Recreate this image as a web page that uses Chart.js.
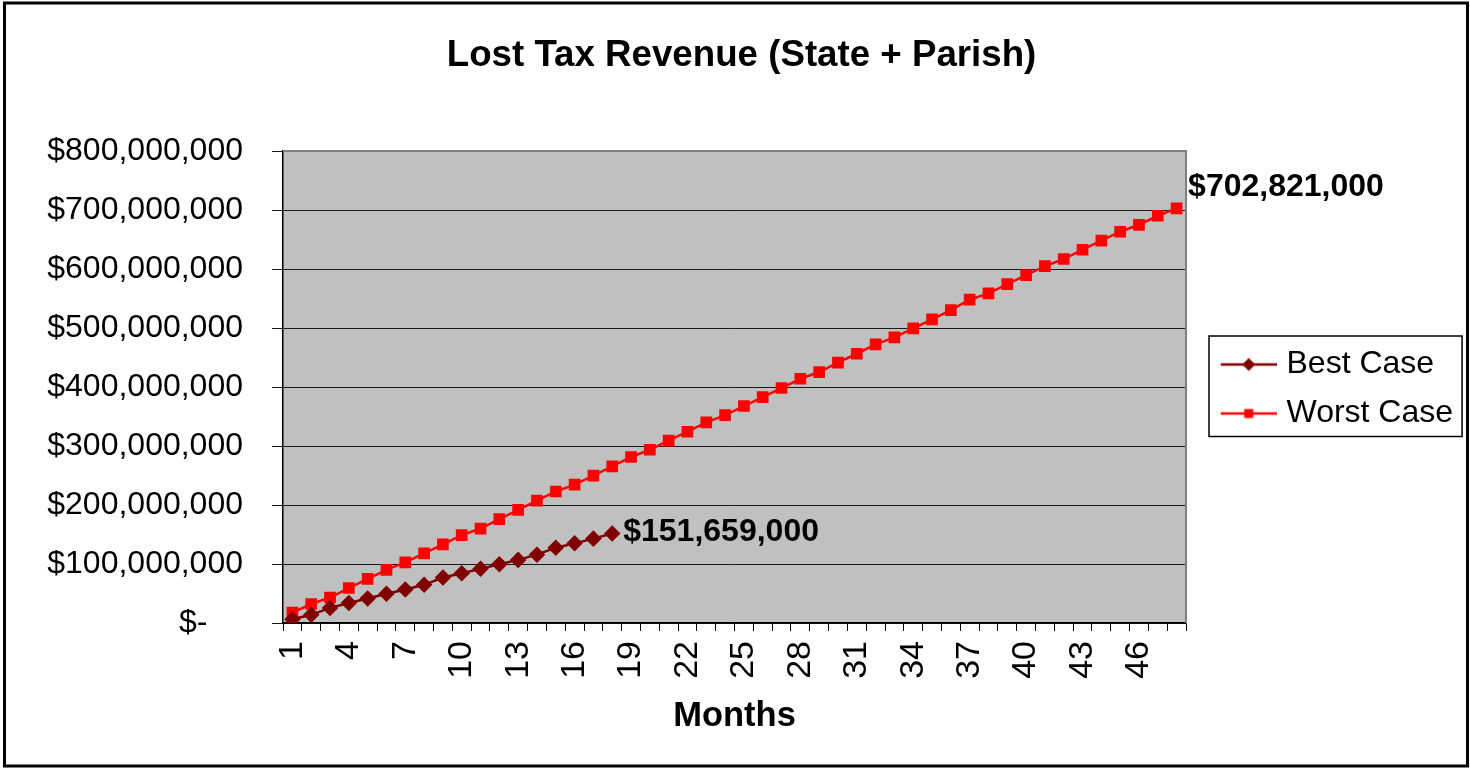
<!DOCTYPE html>
<html>
<head>
<meta charset="utf-8">
<script src="https://cdn.jsdelivr.net/npm/chart.js@4.4.0/dist/chart.umd.min.js"></script>
<style>
html,body{margin:0;padding:0;background:#fff;overflow:hidden}
#wrap{width:1470px;height:769px;position:relative}
</style>
</head>
<body>
<div id="wrap"><canvas id="c" width="1470" height="769"></canvas></div>
<script>
// ---------- data ----------
const chartTitle = 'Lost Tax Revenue (State + Parish)';
const xAxisTitle = 'Months';
const months = [1,2,3,4,5,6,7,8,9,10,11,12,13,14,15,16,17,18,19,20,21,22,23,24,
                25,26,27,28,29,30,31,32,33,34,35,36,37,38,39,40,41,42,43,44,45,46,47,48];
const shownMonths = [1,4,7,10,13,16,19,22,25,28,31,34,37,40,43,46];
const seriesNames = ['Best Case', 'Worst Case'];
const bestCase = [6300000, 13900000, 25600000, 34000000, 41600000, 49500000, 56800000, 64700000,
                  77100000, 84200000, 91800000, 99700000, 107000000, 115800000, 127700000,
                  135000000, 143000000, 151659000];
const worstCase = [17500000, 32200000, 43200000, 59300000, 74800000, 90100000, 102600000, 118000000,
                   133300000, 148900000, 160100000, 176000000, 191800000, 207400000, 222900000,
                   234500000, 249700000, 265600000, 281400000, 293700000, 309000000, 324200000,
                   340200000, 352500000, 367800000, 383000000, 398300000, 414000000, 425400000,
                   441200000, 456400000, 472400000, 484200000, 499500000, 514700000, 530500000,
                   548000000, 558600000, 574500000, 589700000, 604800000, 617000000, 632700000,
                   648000000, 663200000, 675000000, 690300000, 702821000];
const yTickValues = [0, 100000000, 200000000, 300000000, 400000000, 500000000, 600000000, 700000000, 800000000];

// ---------- styling ----------
const FAMILY = "'Liberation Sans', Arial, sans-serif";
const COLORS = ['#800000', '#FF0000'];
const STYLES = ['rectRot', 'rect'];
const LEG_FONT = 32;
const LEG_PAD = 17;
const LEG_BOX = 67.5;
const PLOT_RIGHT = 1186;
const PAD_LEFT = 20;

function fmtMoney(v) {
  if (v === 0) return '$-    ';
  return '$' + Math.round(v).toLocaleString('en-US');
}

function legendMarker(color, style) {
  const c = document.createElement('canvas');
  c.width = 80; c.height = 16;
  const g = c.getContext('2d');
  g.strokeStyle = color; g.lineWidth = 2.5;
  g.beginPath(); g.moveTo(24, 8); g.lineTo(80, 8); g.stroke();
  g.fillStyle = color;
  g.beginPath();
  if (style === 'rectRot') {
    g.moveTo(52, 1.5); g.lineTo(58.5, 8); g.lineTo(52, 14.5); g.lineTo(45.5, 8); g.closePath();
  } else {
    g.rect(47.5, 3.5, 9, 9);
  }
  g.fill();
  return c;
}
const markers = [legendMarker(COLORS[0], STYLES[0]), legendMarker(COLORS[1], STYLES[1])];

// legend width, to place the plot right edge
const mctx = document.createElement('canvas').getContext('2d');
mctx.font = LEG_FONT + 'px ' + FAMILY;
const maxText = Math.max(...seriesNames.map(n => mctx.measureText(n).width));
const legendWidth = LEG_PAD + (LEG_BOX + LEG_FONT / 2 + maxText) + 10;
const padRight = Math.max(0, 1470 - PLOT_RIGHT - legendWidth);

const framePlugin = {
  id: 'frame',
  beforeDraw(chart) {
    const {ctx, chartArea: a} = chart;
    ctx.save();
    ctx.fillStyle = '#fff';
    ctx.fillRect(0, 0, chart.width, chart.height);
    ctx.fillStyle = '#C0C0C0';
    ctx.fillRect(a.left, a.top, a.right - a.left, a.bottom - a.top);
    ctx.restore();
  },
  beforeDatasetsDraw(chart) {
    const {ctx, chartArea: a} = chart;
    ctx.save();
    ctx.strokeStyle = '#808080';
    ctx.lineWidth = 2;
    ctx.beginPath();
    ctx.moveTo(a.left, a.top); ctx.lineTo(a.right, a.top); ctx.lineTo(a.right, a.bottom);
    ctx.stroke();
    ctx.restore();
  },
  afterDatasetsDraw(chart) {
    const {ctx} = chart;
    const offs = [[11, -1], [11.5, -21]];
    ctx.save();
    ctx.font = 'bold 32px ' + FAMILY;
    ctx.fillStyle = '#000';
    ctx.textAlign = 'left';
    ctx.textBaseline = 'middle';
    chart.data.datasets.forEach((ds, i) => {
      const meta = chart.getDatasetMeta(i);
      const last = meta.data.length - 1;
      const pt = meta.data[last];
      ctx.fillText(fmtMoney(ds.data[last]), pt.x + offs[i][0], pt.y + offs[i][1]);
    });
    ctx.restore();
  },
  afterDraw(chart) {
    const {ctx} = chart;
    ctx.save();
    const lg = chart.legend;
    if (lg && lg.legendHitBoxes && lg.legendHitBoxes.length) {
      const hb = lg.legendHitBoxes;
      const x0 = hb[0].left + 6;
      const x1 = hb[0].left + Math.max(...hb.map(h => h.width)) + 9;
      const y0 = hb[0].top - 12.5;
      const y1 = hb[hb.length - 1].top + hb[hb.length - 1].height + 7;
      ctx.strokeStyle = '#000';
      ctx.lineWidth = 1.5;
      ctx.strokeRect(x0, y0, x1 - x0, y1 - y0);
    }
    ctx.strokeStyle = '#000';
    ctx.lineWidth = 3;
    ctx.strokeRect(4.5, 3, 1463, 763);
    ctx.restore();
  }
};

Chart.defaults.font.family = FAMILY;
Chart.defaults.color = '#000';

new Chart(document.getElementById('c'), {
  type: 'line',
  data: {
    labels: months.map(String),
    datasets: [
      {
        label: seriesNames[0], data: bestCase,
        borderColor: COLORS[0], backgroundColor: COLORS[0],
        pointStyle: STYLES[0], pointRadius: 6.5, pointHoverRadius: 6.5,
        borderWidth: 2.5, tension: 0, fill: false
      },
      {
        label: seriesNames[1], data: worstCase,
        borderColor: COLORS[1], backgroundColor: COLORS[1],
        pointStyle: STYLES[1], pointRadius: 6.5, pointHoverRadius: 6.5,
        borderWidth: 2.5, tension: 0, fill: false
      }
    ]
  },
  options: {
    responsive: false,
    animation: false,
    events: [],
    layout: { padding: { left: PAD_LEFT, right: padRight, top: 9, bottom: 0 } },
    plugins: {
      tooltip: { enabled: false },
      title: {
        display: true, text: chartTitle, color: '#000',
        font: { size: 36.7, weight: 'bold' },
        padding: { top: 25, bottom: 73 }
      },
      legend: {
        position: 'right',
        labels: {
          usePointStyle: true,
          pointStyleWidth: LEG_BOX,
          padding: LEG_PAD,
          color: '#000',
          font: { size: LEG_FONT },
          generateLabels(chart) {
            return chart.data.datasets.map((ds, i) => ({
              text: ds.label,
              pointStyle: markers[i],
              fillStyle: ds.borderColor,
              strokeStyle: ds.borderColor,
              lineWidth: 0,
              hidden: false,
              datasetIndex: i,
              fontColor: '#000'
            }));
          }
        }
      }
    },
    scales: {
      x: {
        type: 'category',
        offset: true,
        afterFit(s) { s.height = 146; },
        grid: { offset: true, drawOnChartArea: false, drawTicks: true, tickLength: 8, color: '#000', lineWidth: 1 },
        border: { display: true, color: '#000', width: 1.5 },
        ticks: {
          autoSkip: false, minRotation: 90, maxRotation: 90, padding: 10,
          font: { size: 34 }, color: '#000',
          callback(v, idx) { return shownMonths.includes(months[idx]) ? String(months[idx]) : ''; }
        },
        title: {
          display: true, text: xAxisTitle, color: '#000',
          font: { size: 34.5, weight: 'bold' },
          padding: { top: 0, bottom: 32 }
        }
      },
      y: {
        min: 0, max: 800000000,
        afterFit(s) { s.width = 283 - PAD_LEFT; },
        afterBuildTicks(s) { s.ticks = yTickValues.map(v => ({ value: v })); },
        grid: { color: '#1a1a1a', lineWidth: 1, tickLength: 11, drawTicks: true },
        border: { display: true, color: '#000', width: 1.5 },
        ticks: {
          padding: 29, font: { size: 32 }, color: '#000',
          callback(v) { return fmtMoney(v); }
        }
      }
    }
  },
  plugins: [framePlugin]
});
</script>
</body>
</html>
